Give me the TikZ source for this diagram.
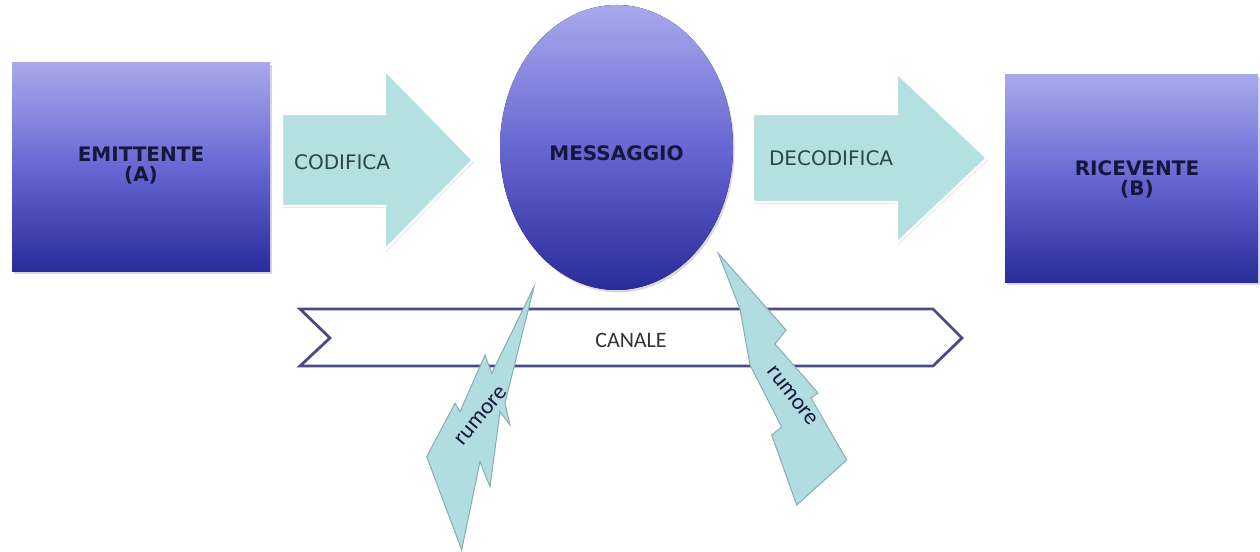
\documentclass[tikz,border=0pt]{standalone}
\usepackage{fontspec}
\usetikzlibrary{shadows}
\newfontfamily\verdfont{DejaVu Sans}
\newfontfamily\calfont{Carlito}

\definecolor{boxtop}{HTML}{A8A9EC}
\definecolor{boxmid}{HTML}{6667D2}
\definecolor{boxbot}{HTML}{2A2B9B}
\definecolor{navytext}{HTML}{15173C}
\definecolor{arrowfill}{HTML}{B4E0E2}
\definecolor{arrowtext}{HTML}{2C4547}
\definecolor{boltfill}{HTML}{B2DDE0}
\definecolor{boltedge}{HTML}{86AEB1}
\definecolor{channelline}{HTML}{4A4A86}

\tikzset{
  softshadow/.style={drop shadow={shadow xshift=0.8pt, shadow yshift=-1.2pt, opacity=0.22, fill=black!70}},
  partybox/.style={top color=boxtop, bottom color=boxbot, middle color=boxmid, draw=none, softshadow},
  flowarrow/.style={fill=arrowfill, draw=white, line width=1.2pt, line join=miter,
    drop shadow={shadow xshift=0.6pt, shadow yshift=-0.9pt, opacity=0.18, fill=black!60}},
  bolt/.style={fill=boltfill, draw=boltedge, line width=0.5pt, line join=miter},
  partylabel/.style={font=\verdfont\bfseries\fontsize{10}{10}\selectfont, text=navytext, align=center},
  steplabel/.style={font=\verdfont\fontsize{10}{12}\selectfont, text=arrowtext, anchor=west},
  noiselabel/.style={font=\calfont\fontsize{11.5}{12}\selectfont, text=navytext, inner sep=0pt},
}

\begin{document}
\begin{tikzpicture}[x=0.5pt, y=0.5pt]
\useasboundingbox (0,0) rectangle (1260,552);

% sender and receiver blocks
\fill[partybox] (12,280) rectangle (270,489);
\fill[partybox] (1005,269) rectangle (1258,477);
\node[partylabel] (sender) at (141,386) {EMITTENTE\\(A)};
\node[partylabel] (receiver) at (1137,373) {RICEVENTE\\(B)};

% encoding and decoding arrows
\path[flowarrow] (282,346) -- (385,346) -- (385,302) -- (473,392)
  -- (385,482) -- (385,438) -- (282,438) -- cycle;
\node[steplabel] (encode) at (287,390) {CODIFICA};

\path[flowarrow] (753,350) -- (897,350) -- (897,309) -- (987,394)
  -- (897,479) -- (897,438) -- (753,438) -- cycle;
\node[steplabel] (decode) at (762,394) {DECODIFICA};

% the message
\fill[top color=boxtop, bottom color=boxbot, middle color=boxmid, softshadow]
  (616.5,404.5) ellipse [x radius=116.5, y radius=142.5];
\node[partylabel] (message) at (616.5,398.7) {MESSAGGIO};

% the channel
\draw[channelline, line width=1.4pt, fill=white, line join=miter]
  (300,243) -- (933,243) -- (962,214) -- (933,186) -- (300,186) -- (330,214) -- cycle;
\node[font=\calfont\fontsize{11}{13}\selectfont, text=black!80] (channel) at (631,212) {CANALE};

% noise striking the channel
\draw[bolt] (534,265.3) -- (505,149) -- (510,127) -- (500,140.3) -- (490,65.3)
  -- (480,90.3) -- (461.7,2) -- (426.7,95.3) -- (455,148.7) -- (460,140.3)
  -- (485,197) -- (491.7,178.7) -- cycle;
\node[noiselabel, rotate=50] (noiseA) at (481,136) {rumore};

\draw[bolt] (718.3,298.7) -- (786,222) -- (775,208) -- (818,159) -- (811,154)
  -- (846.7,92) -- (796.7,47) -- (771.7,117) -- (781.7,125) -- (750,187)
  -- (740,243) -- cycle;
\node[noiselabel, rotate=-52] (noiseB) at (792,156) {rumore};
\end{tikzpicture}
\end{document}
